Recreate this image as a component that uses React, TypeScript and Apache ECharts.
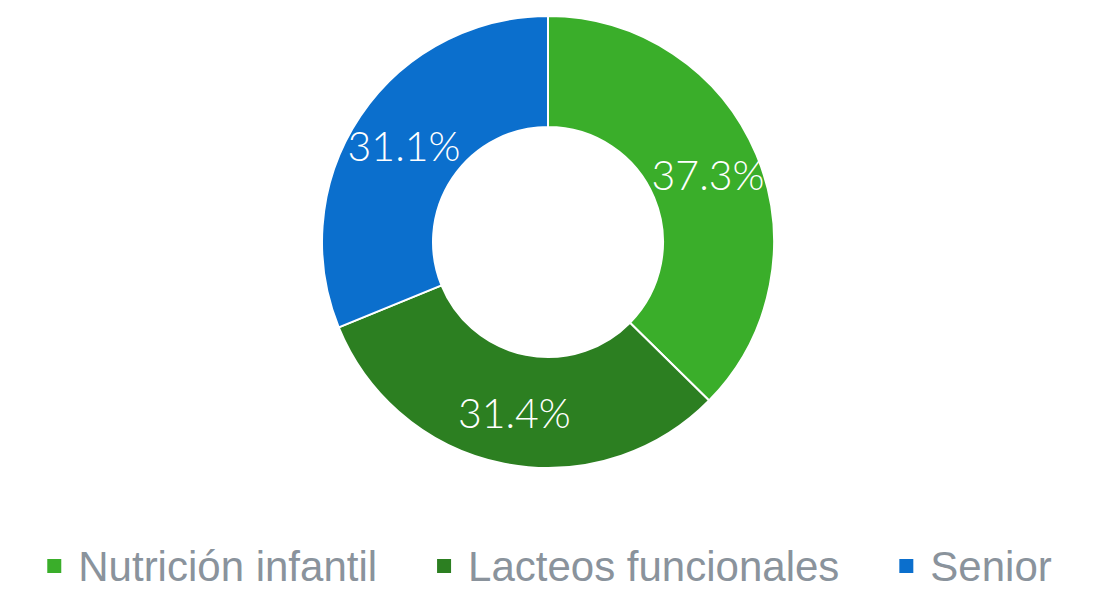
import React, { useEffect, useRef } from "react";
import * as echarts from "echarts";

const categories = ["Nutrición infantil", "Lacteos funcionales", "Senior"];
const values = [37.3, 31.4, 31.1];
const colors = ["#3aae2a", "#2c7f21", "#0b6fcd"];

export default function App() {
  const ref = useRef<HTMLDivElement>(null);
  useEffect(() => {
    if (!ref.current) return;
    const chart = echarts.init(ref.current, undefined, { renderer: "svg" });
    chart.setOption({
      animation: false,
      color: colors,
      legend: {
        data: categories,
        top: 545,
        left: "center",
        padding: 0,
        icon: "rect",
        itemWidth: 16,
        itemHeight: 16,
        itemGap: 58,
        textStyle: {
          fontFamily: "Liberation Sans, Arial, sans-serif",
          fontSize: 42,
          lineHeight: 42,
          color: "#8a939c",
          padding: [0, 0, 0, 11],
        },
      },
      series: [
        {
          type: "pie",
          center: [548, 242],
          radius: [115, 226],
          startAngle: 90,
          clockwise: true,
          data: categories.map((c, i) => ({ name: c, value: values[i] })),
          itemStyle: { borderColor: "#ffffff", borderWidth: 2 },
          label: {
            show: true,
            position: "inside",
            formatter: (p: any) => p.value.toFixed(1) + "%",
            color: "#ffffff",
            fontFamily: "Lato, sans-serif",
            fontWeight: 300,
            fontSize: 41,
          },
          labelLine: { show: false },
          emphasis: { disabled: true },
        },
      ],
    });
    return () => chart.dispose();
  }, []);
  return (
    <div
      ref={ref}
      style={{ position: "fixed", left: 0, top: 0, width: 1097, height: 589, background: "#fff" }}
    />
  );
}
